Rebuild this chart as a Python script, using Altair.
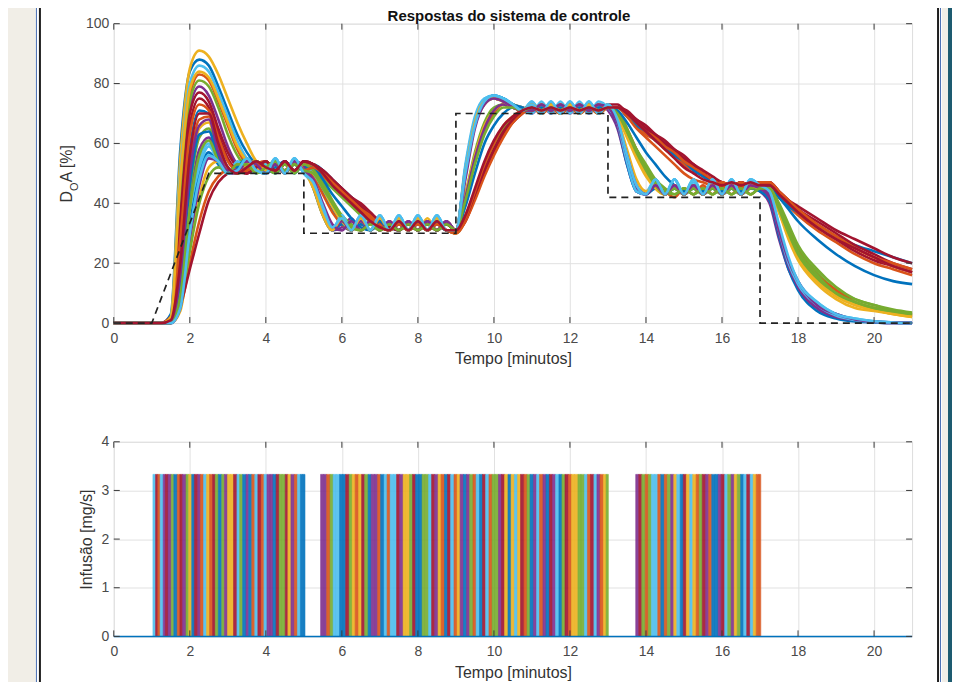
import altair as alt
import pandas as pd

# ---------------- data ----------------
t_grid = [0, 1.0, 1.25, 1.5, 1.75, 2.0, 2.25, 2.5, 2.75, 3.0, 3.25, 3.5, 3.75, 4.0,
          4.25, 4.5, 4.75, 5.0, 5.25, 5.5, 5.75, 6.0, 6.25, 6.5, 6.75, 7.0,
          7.25, 7.5, 7.75, 8.0, 8.25, 8.5, 8.75, 9.0, 9.25, 9.5, 9.75, 10.0, 10.25, 10.5, 10.75,
          11.0, 11.25, 11.5, 11.75, 12.0, 12.25, 12.5, 12.75, 13.0,
          13.25, 13.5, 13.75, 14.0, 14.25, 14.5, 14.75, 15.0,
          15.25, 15.5, 15.75, 16.0, 16.25, 16.5, 16.75, 17.0,
          17.25, 17.5, 17.75, 18.0, 18.5, 19.0, 19.5, 20.0, 20.5, 21.0]

run_01 = ([0,0,0,3,58,84,88,86,79,71,63,57,53,51] + [54,51,54,52] + [50,44,38,33,31,34,31,34]
          + [31,34,31,34,31,34,31] + [31,52,68,74,76,75,73,72] + [71,73,71,73,71,73,71,73,72]
          + [66,54,45,43,46,43,46,43] + [46,43,46,43,46,43,46,45] + [42,30,20,13,6,3,1,0.5,0.2,0])
run_02 = ([0,0,0,1,45,76,83,81,74,66,58,53,51,52] + [54,51,53,52] + [52,49,46,43,40,37,34,32]
          + [31,33,31,34,31,33,31] + [30,34,42,51,58,64,68,71] + [72,70,72,70,72,70,72,70,72]
          + [72,69,66,63,61,58,56,53] + [51,49,47,46,47,45,47,46] + [46,42,39,36,31,27,23,20,18,16])
run_03 = ([0,0,0,2,55,85,91,89,83,75,67,60,54,52] + [51,54,51,53] + [51,46,40,35,32,31,34,31]
          + [34,31,34,31,35,31,34] + [31,42,56,66,71,73,72,71] + [73,71,73,71,73,71,73,71,73]
          + [70,63,56,50,45,43,46,43] + [46,43,46,43,46,43,46,45] + [45,38,30,23,15,10,7,5,3.5,2.5])
run_04 = ([0,0,0,1,38,72,79,76,68,59,53,51,52,54] + [51,54,51,53] + [46,37,31,32,35,31,34,31]
          + [34,31,34,31,34,31,34] + [31,50,66,73,75,74,72,72] + [70,73,70,73,70,73,70,73,71]
          + [65,53,44,43,46,43,45,43] + [46,43,46,43,45,43,46,44] + [40,28,18,12,5,2,1,0.3,0,0])
run_05 = ([0,0,0,2,40,74,81,79,72,63,56,52,51,53] + [51,53,51,52] + [52,47,41,36,33,31,33,31]
          + [33,31,33,31,33,31,33] + [31,43,57,67,72,73,72,71] + [72,71,72,71,72,71,72,71,72]
          + [71,64,57,51,46,43,45,43] + [45,43,45,43,45,43,45,45] + [45,39,32,25,17,11,8,6,4,3])
run_06 = ([0,0,0,2,50,80,86,84,77,69,61,55,52,51] + [55,50,55,50] + [47,38,31,36,31,36,31,36]
          + [31,36,31,36,31,36,31] + [31,53,69,75,76,75,73,71] + [74,70,74,70,74,70,74,70,73]
          + [67,55,45,43,48,43,48,43] + [48,43,48,43,48,43,48,46] + [44,32,21,14,7,3,1.5,0.6,0.2,0])
run_07 = ([0,0,0,1,35,70,77,74,65,57,52,50,52,54] + [51,54,51,54] + [53,50,47,44,41,38,35,33]
          + [31,34,31,35,31,34,31] + [31,35,43,52,59,65,69,71] + [73,71,73,71,73,71,73,71,73]
          + [73,70,67,65,62,60,57,55] + [52,50,48,47,46,47,46,47] + [47,43,40,37,32,28,24,21,19,17])
run_08 = ([0,0,0,1,22,58,71,70,60,52,50,52,54,52] + [50,53,50,53] + [53,51,48,45,42,39,36,34]
          + [32,31,33,31,33,31,33] + [31,41,55,65,71,73,72,71] + [71,72,71,72,71,72,71,72,72]
          + [72,69,66,64,61,59,56,54] + [51,49,47,46,45,46,45,46] + [46,42,39,37,33,29,26,24,22,20])
run_09 = ([0,0,0,0,18,52,68,69,58,51,51,53,54,51] + [53,51,53,51] + [49,43,37,33,31,33,31,34]
          + [31,33,31,34,31,33,31] + [31,40,54,64,70,73,72,71] + [73,71,73,71,73,71,73,71,72]
          + [71,65,58,52,47,44,42,45] + [43,46,43,46,43,46,43,45] + [45,39,31,24,16,11,7,5,3.5,2.5])
run_10 = ([0,0,0,0,15,48,65,67,56,50,52,54,52,50] + [53,50,53,51] + [45,36,31,34,31,35,31,34]
          + [31,35,31,34,31,35,31] + [31,49,66,73,75,74,73,72] + [71,73,71,73,71,73,71,73,72]
          + [69,62,55,49,45,43,46,43] + [46,43,46,43,46,43,46,45] + [45,37,29,22,14,9,6,4.5,3,2])
run_11 = ([0,0,0,0,10,40,58,62,54,50,53,54,50,52] + [54,51,54,52] + [46,37,32,31,34,31,34,31]
          + [34,31,34,31,34,31,34] + [31,51,67,74,75,74,72,71] + [73,71,73,71,73,71,73,71,72]
          + [66,54,44,43,46,43,46,43] + [46,43,46,43,46,43,46,44] + [41,29,19,12,5,2,0.8,0.3,0,0])
run_12 = ([0,0,0,0,12,44,62,65,55,50,53,55,51,50] + [53,50,53,51] + [51,48,45,42,39,36,34,32]
          + [31,33,31,33,31,33,31] + [30,35,44,53,60,65,69,71] + [72,70,72,70,72,70,72,70,72]
          + [71,65,58,52,47,44,43,45] + [43,45,43,45,43,45,43,45] + [45,40,33,26,18,12,8,6,4.5,3.5])
run_13 = ([0,0,0,0,8,36,54,60,53,50,54,52,50,53] + [50,54,50,54] + [50,45,39,34,31,35,31,35]
          + [31,35,31,35,31,35,31] + [31,51,67,74,75,75,73,71] + [70,74,70,74,70,74,70,74,72]
          + [67,55,45,44,48,43,48,43] + [47,43,47,43,47,43,47,46] + [43,31,20,13,6,3,1.2,0.5,0.2,0])
run_14 = ([0,0,0,1,30,66,75,72,63,55,51,50,53,54] + [51,54,51,54] + [53,51,48,45,42,39,36,33]
          + [32,34,31,34,31,34,31] + [31,34,42,50,57,63,67,70] + [72,71,72,71,72,71,72,71,72]
          + [72,70,68,65,63,60,58,55] + [53,50,48,47,46,47,46,47] + [47,44,41,38,34,30,26,23,20,18])
run_15 = ([0,0,0,0,6,32,50,57,53,50,52,55,51,50] + [52,54,51,53] + [45,36,31,33,31,33,31,33]
          + [31,33,31,33,31,33,31] + [31,50,67,74,76,75,73,72] + [71,72,71,72,71,72,71,72,72]
          + [66,53,44,43,45,43,45,43] + [45,43,45,43,45,43,45,44] + [41,29,18,11,4,1.5,0.5,0.2,0,0])
run_16 = ([0,0,0,1,5,20,34,44,49,51,50,51,53,54] + [51,53,51,53] + [53,50,47,44,41,38,36,33]
          + [31,33,31,33,31,33,31] + [30,34,41,49,56,62,67,70] + [72,70,72,70,72,70,72,70,72]
          + [72,70,67,64,62,59,57,54] + [52,50,48,47,46,45,46,46] + [46,43,40,37,33,29,25,22,19,17])
run_17 = ([0,0,0,0,4,25,42,52,54,51,50,53,54,51] + [53,51,53,51] + [50,45,39,34,31,34,31,34]
          + [31,34,31,34,31,34,31] + [31,43,56,66,71,73,72,71] + [72,71,72,71,72,71,72,71,72]
          + [70,63,56,50,45,43,46,43] + [46,43,46,43,46,43,46,45] + [45,38,30,22,14,9,6,4.5,3,2.5])
run_18 = ([0,0,0,0,5,28,46,55,54,50,50,54,53,50] + [54,51,54,52] + [46,37,31,34,31,34,31,34]
          + [31,34,31,34,31,34,31] + [31,42,55,65,71,73,72,71] + [72,71,72,71,72,71,72,71,72]
          + [66,54,45,43,46,43,46,43] + [46,43,46,43,46,43,46,45] + [42,30,19,12,5,2,1,0.4,0.1,0])
run_19 = ([0,0,0,1,6,24,40,49,52,51,50,52,54,52] + [50,53,50,53] + [51,46,40,35,32,31,33,31]
          + [33,31,33,31,33,31,33] + [31,36,44,52,59,65,69,71] + [73,71,73,71,73,71,73,71,72]
          + [71,64,57,51,46,43,45,43] + [45,43,45,43,45,43,45,45] + [45,39,31,24,16,10,7,5,3.5,3])
run_20 = ([0,0,0,1,12,38,52,59,54,50,51,55,51,50] + [55,50,55,50] + [46,37,31,36,31,36,31,36]
          + [31,36,31,36,31,36,31] + [31,52,68,75,76,75,73,71] + [74,70,74,70,74,70,74,70,73]
          + [67,54,44,43,48,43,48,43] + [48,43,48,43,48,43,48,46] + [44,31,20,13,6,2.5,1,0.4,0.1,0])
run_21 = ([0,0,0,2,6,18,30,41,47,50,51,50,52,54] + [51,54,51,54] + [53,51,48,45,42,40,37,34]
          + [32,31,33,31,33,31,33] + [31,35,43,51,58,64,68,71] + [72,71,72,71,72,71,72,71,72]
          + [72,71,68,66,63,61,58,56] + [53,51,49,47,46,47,46,47] + [47,44,41,39,35,31,28,25,22,20])
run_22 = ([0,0,0,0,14,46,63,64,55,50,52,54,51,50] + [53,51,53,51] + [52,48,43,39,35,32,31,34]
          + [31,34,31,34,31,34,31] + [31,39,50,60,66,70,72,71] + [72,71,72,71,72,71,72,71,72]
          + [71,67,62,57,53,49,46,44] + [46,44,46,44,46,44,46,46] + [46,42,38,34,28,23,19,16,14,13])
run_23 = ([0,0,0,1,28,63,73,71,62,54,51,51,53,52] + [54,51,54,51] + [52,50,47,44,41,38,35,32]
          + [31,33,31,33,31,33,31] + [30,35,44,53,60,66,69,71] + [71,73,71,73,71,73,71,73,72]
          + [72,69,65,62,59,56,53,50] + [48,47,46,47,46,47,46,47] + [47,44,41,38,33,29,25,22,20,18])
run_24 = ([0,0,0,2,48,78,84,82,75,67,59,54,51,52] + [54,51,54,51] + [45,36,31,35,31,35,31,35]
          + [31,35,31,35,31,35,31] + [31,50,67,74,75,74,72,71] + [73,71,73,71,73,71,73,71,72]
          + [68,58,48,44,46,43,46,43] + [46,43,46,43,46,43,46,45] + [45,37,28,21,13,8,5,4,3,2])
run_25 = ([0,0,0,0,16,50,66,68,57,51,51,54,53,50] + [53,50,54,51] + [48,40,33,31,34,31,34,31]
          + [34,31,34,31,34,31,34] + [31,48,65,73,75,74,72,71] + [71,73,71,73,71,73,71,73,72]
          + [67,56,46,43,46,43,46,43] + [46,43,46,43,46,43,46,45] + [43,31,21,14,6,3,1.2,0.5,0.2,0])
run_26 = ([0,0,0,0,9,38,56,61,54,50,53,53,50,52] + [54,51,53,51] + [50,45,40,35,32,31,33,31]
          + [33,31,33,31,33,31,33] + [31,41,53,63,69,72,72,71] + [72,71,72,71,72,71,72,71,72]
          + [70,64,58,53,48,45,43,45] + [43,45,43,45,43,45,43,45] + [45,38,30,23,15,10,7,5,4,3])
run_27 = ([0,0,0,0,5,30,48,56,54,50,51,55,51,50] + [55,50,55,50] + [47,39,32,35,31,36,31,36]
          + [31,36,31,36,31,36,31] + [31,50,66,74,76,75,73,71] + [73,70,74,70,74,70,74,70,73]
          + [68,56,46,43,48,43,48,43] + [48,43,48,43,48,43,48,46] + [44,33,22,14,7,3,1.5,0.6,0.2,0])
run_28 = ([0,0,0,1,20,56,70,70,60,52,50,52,54,52] + [51,54,51,54] + [53,50,46,43,40,37,34,32]
          + [31,34,31,34,31,34,31] + [31,36,45,54,61,66,69,71] + [72,71,72,71,72,71,72,71,72]
          + [72,70,67,64,61,58,55,52] + [50,48,47,46,47,46,47,46] + [46,43,40,37,32,28,25,22,19,17])

# set-point (dashed reference)
ref_t = [0, 1.0, 2.5, 5.0, 5.0, 9.0, 9.0, 13.0, 13.0, 17.0, 17.0, 21.0]
ref_v = [0, 0, 50, 50, 30, 30, 70, 70, 42, 42, 0, 0]

# infusion pulses: stripe boundaries (minutes) and the run drawn on top in each stripe
pulse_level = 3.33
B1 = [1.03, 1.10, 1.16, 1.22, 1.30, 1.36, 1.43, 1.51, 1.58, 1.67, 1.74, 1.81, 1.90, 1.97, 2.05,
      2.12, 2.21, 2.28, 2.36, 2.44, 2.52, 2.60, 2.67, 2.75, 2.84, 2.91, 2.99, 3.07, 3.15, 3.24,
      3.31, 3.39, 3.48, 3.55, 3.63, 3.71, 3.79, 3.88, 3.95, 4.03, 4.11, 4.19, 4.27, 4.35, 4.43,
      4.51, 4.58, 4.66, 4.75, 4.83, 4.91, 4.97, 5.03]
R1 = [6, 7, 2, 13, 4, 14, 11, 5, 1, 9, 7, 18, 12, 3, 8, 21, 4, 16, 6, 10, 2, 14, 19, 1, 5, 11,
      17, 3, 7, 20, 12, 8, 4, 15, 9, 13, 21, 2, 6, 18, 11, 1, 14, 5, 19, 7, 10, 4, 16, 13, 1, 8]
B2 = [5.44, 5.52, 5.60, 5.69, 5.77, 5.85, 5.94, 6.02, 6.10, 6.19, 6.27, 6.35, 6.44, 6.52, 6.60,
      6.69, 6.77, 6.86, 6.94, 7.02, 7.11, 7.19, 7.27, 7.36, 7.44, 7.52, 7.61, 7.69, 7.78, 7.86,
      7.94, 8.03, 8.11, 8.19, 8.28, 8.36, 8.44, 8.53, 8.61, 8.70, 8.78, 8.86, 8.95, 9.03, 9.11,
      9.20, 9.28, 9.36, 9.45, 9.53, 9.62, 9.70, 9.78, 9.87, 9.95, 10.03, 10.12, 10.20, 10.28,
      10.37, 10.45, 10.54, 10.62, 10.70, 10.79, 10.87, 10.95, 11.04, 11.12, 11.20, 11.29, 11.37,
      11.46, 11.54, 11.62, 11.71, 11.79, 11.87, 11.96, 12.04, 12.12, 12.21, 12.29, 12.38, 12.46,
      12.54, 12.63, 12.71, 12.79, 12.88, 12.95, 13.01]
R2 = [4, 11, 2, 19, 6, 13, 1, 8, 21, 5, 3, 16, 10, 7, 12, 1, 18, 4, 9, 15,
      6, 2, 20, 13, 7, 11, 3, 17, 5, 14, 8, 1, 19, 12, 6, 21, 4, 10, 2, 15,
      7, 13, 9, 3, 18, 1, 11, 5, 16, 20, 8, 14, 6, 2, 12, 19, 4, 7, 10, 1,
      17, 13, 3, 21, 9, 5, 15, 11, 6, 2, 18, 8, 14, 4, 20, 1, 12, 7, 16, 3,
      10, 19, 5, 13, 9, 21, 6, 11, 2, 17, 5]
B3 = [13.73, 13.81, 13.89, 13.98, 14.06, 14.14, 14.23, 14.31, 14.39, 14.48, 14.56, 14.65, 14.73,
      14.81, 14.90, 14.98, 15.06, 15.15, 15.23, 15.32, 15.40, 15.48, 15.57, 15.65, 15.73, 15.82,
      15.90, 15.98, 16.07, 16.15, 16.24, 16.32, 16.40, 16.49, 16.57, 16.65, 16.74, 16.82, 16.90,
      16.97, 17.02]
R3 = [4, 7, 12, 2, 19, 6, 13, 9, 1, 16, 5, 11, 3, 20, 8, 14, 10, 6, 17, 2,
      12, 21, 4, 9, 15, 1, 18, 7, 13, 5, 11, 3, 19, 8, 20, 14, 6, 10, 2, 16]

base_t = [0, 21]
base_v = [0, 0]

x_ticks = [0, 2, 4, 6, 8, 10, 12, 14, 16, 18, 20]
y_ticks_top = [0, 20, 40, 60, 80, 100]
y_ticks_bot = [0, 1, 2, 3, 4]
run_ids = [1, 2, 3, 4, 5, 6, 7, 8, 9, 10, 11, 12, 13, 14, 15, 16, 17, 18, 19, 20, 21,
           22, 23, 24, 25, 26, 27, 28]

# ---------------- tables ----------------
runs = [run_01, run_02, run_03, run_04, run_05, run_06, run_07, run_08, run_09, run_10, run_11,
        run_12, run_13, run_14, run_15, run_16, run_17, run_18, run_19, run_20, run_21,
        run_22, run_23, run_24, run_25, run_26, run_27, run_28]
rows = []
for k, vals in zip(run_ids, runs):
    assert len(vals) == len(t_grid), (k, len(vals))
    for t, v in zip(t_grid, vals):
        rows.append({"t": t, "v": v, "run": k})
curves_df = pd.DataFrame(rows)
ref_df = pd.DataFrame({"t": ref_t, "v": ref_v, "i": list(range(len(ref_t)))})

srows = []
for B, R in ((B1, R1), (B2, R2), (B3, R3)):
    assert len(B) == len(R) + 1
    for a, b, r in zip(B[:-1], B[1:], R):
        srows.append({"t0": a, "t1": b, "run": r, "lo": 0.0, "hi": pulse_level})
stripe_df = pd.DataFrame(srows)
base_df = pd.DataFrame({"t": base_t, "v": base_v})
one = pd.DataFrame({"a": [0]})

# ---------------- style ----------------
FONT = "Liberation Sans"
PALETTE = ["#0072BD", "#D95319", "#EDB120", "#7E2F8E", "#77AC30", "#4DBEEE", "#A2142F"]
color_scale = alt.Scale(domain=run_ids, range=PALETTE * 4)
W, H1, H2 = 800, 300, 195
GRID = "#e1e1e1"
TICK = "#3a3a3a"
LAB = "#4a4a4a"

xs = alt.Scale(domain=[0, 21], nice=False, zero=False)
ys_top = alt.Scale(domain=[0, 100], nice=False)
ys_bot = alt.Scale(domain=[0, 4], nice=False)


def x_axis():
    return alt.Axis(values=x_ticks, grid=True, gridColor=GRID, gridWidth=1, domain=False,
                    ticks=False, labelPadding=8, labelFontSize=14, labelColor=LAB,
                    labelFont=FONT, labelFlush=False, title="Tempo [minutos]", titleFont=FONT,
                    titleFontSize=16, titleFontWeight="normal", titleColor="#333333",
                    titlePadding=6)


y_axis_top = alt.Axis(values=y_ticks_top, grid=True, gridColor=GRID, gridWidth=1, domain=False,
                      ticks=False, labelPadding=5, labelFontSize=14, labelColor=LAB,
                      labelFont=FONT, title=None)
y_axis_bot = alt.Axis(values=y_ticks_bot, grid=True, gridColor=GRID, gridWidth=1, domain=False,
                      ticks=False, labelPadding=5, labelFontSize=14, labelColor=LAB,
                      labelFont=FONT, title="Infusão [mg/s]", titleFont=FONT, titleFontSize=16,
                      titleFontWeight="normal", titleColor="#333333", titleX=-22,
                      titleY=H2 / 2, titleAngle=270, titleAlign="center",
                      titleBaseline="alphabetic")
x_axis_top = x_axis()
x_axis_bot = x_axis()

# window frame around the figure (pixels relative to each plot area)
FRAME = [(-113, -78, "#f1eee7"), (-78, -77, "#4a6fb5"), (-75, -73, "#1e1e1e"),
         (825, 827, "#1e1e1e"), (828, 829, "#4a6fb5"), (830, 836, "#f1eee7"),
         (836, 847, "#1d5b70")]


def frame(y_top, y_bot):
    return [alt.Chart(one).mark_rect(color=c).encode(
        x=alt.value(a), x2=alt.value(b), y=alt.value(y_top), y2=alt.value(y_bot))
        for a, b, c in FRAME]


def inner_ticks(xsc, xax, ysc, yax, yvals, h):
    xt = pd.DataFrame({"xt": x_ticks})
    yt = pd.DataFrame({"yt": yvals})
    r = dict(color=TICK, strokeWidth=1)
    return [
        alt.Chart(xt).mark_rule(**r).encode(x=alt.X("xt:Q", scale=xsc, axis=xax),
                                            y=alt.value(0), y2=alt.value(6)),
        alt.Chart(xt).mark_rule(**r).encode(x=alt.X("xt:Q", scale=xsc, axis=xax),
                                            y=alt.value(h - 6), y2=alt.value(h)),
        alt.Chart(yt).mark_rule(**r).encode(y=alt.Y("yt:Q", scale=ysc, axis=yax),
                                            x=alt.value(0), x2=alt.value(6)),
        alt.Chart(yt).mark_rule(**r).encode(y=alt.Y("yt:Q", scale=ysc, axis=yax),
                                            x=alt.value(W - 6), x2=alt.value(W)),
    ]


# ---------------- top panel ----------------
lines = alt.Chart(curves_df).mark_line(interpolate="monotone", strokeWidth=2.6).encode(
    x=alt.X("t:Q", scale=xs, axis=x_axis_top),
    y=alt.Y("v:Q", scale=ys_top, axis=y_axis_top),
    color=alt.Color("run:N", scale=color_scale, legend=None),
)
dashed = alt.Chart(ref_df).mark_line(color="#222222", strokeDash=[7, 5], strokeWidth=1.7).encode(
    x=alt.X("t:Q", scale=xs, axis=x_axis_top),
    y=alt.Y("v:Q", scale=ys_top, axis=y_axis_top),
    order=alt.Order("i:Q"),
)
title_txt = alt.Chart(one).mark_text(font=FONT, fontSize=15, fontWeight="bold", color="#111111",
                                     align="center", baseline="alphabetic").encode(
    x=alt.value(396), y=alt.value(-3), text=alt.value("Respostas do sistema de controle"))
ytxt = dict(font=FONT, color="#333333", angle=270, align="left", baseline="alphabetic")
y_D = alt.Chart(one).mark_text(fontSize=16, **ytxt).encode(
    x=alt.value(-42), y=alt.value(179.2), text=alt.value("D"))
y_O = alt.Chart(one).mark_text(fontSize=11, **ytxt).encode(
    x=alt.value(-35.5), y=alt.value(167.6), text=alt.value("O"))
y_A = alt.Chart(one).mark_text(fontSize=16, **ytxt).encode(
    x=alt.value(-42), y=alt.value(159.0), text=alt.value("A [%]"))

top = alt.layer(
    *frame(-30, 378), lines, dashed,
    *inner_ticks(xs, x_axis_top, ys_top, y_axis_top, y_ticks_top, H1),
    title_txt, y_D, y_O, y_A,
).properties(width=W, height=H1)

# ---------------- bottom panel ----------------
stripes = alt.Chart(stripe_df).mark_rect(opacity=0.9, strokeWidth=0.6).encode(
    x=alt.X("t0:Q", scale=xs, axis=x_axis_bot),
    x2="t1:Q",
    y=alt.Y("lo:Q", scale=ys_bot, axis=y_axis_bot),
    y2="hi:Q",
    color=alt.Color("run:N", scale=color_scale, legend=None),
    stroke=alt.Stroke("run:N", scale=color_scale, legend=None),
)
baseline = alt.Chart(base_df).mark_line(color="#0072BD", strokeWidth=1.5).encode(
    x=alt.X("t:Q", scale=xs, axis=x_axis_bot),
    y=alt.Y("v:Q", scale=ys_bot, axis=y_axis_bot),
)

bottom = alt.layer(
    *frame(-41, 245), stripes, baseline,
    *inner_ticks(xs, x_axis_bot, ys_bot, y_axis_bot, y_ticks_bot, H2),
).properties(width=W, height=H2)

chart = alt.vconcat(top, bottom, spacing=-2).properties(
    padding={"top": -16, "left": -8, "right": -8, "bottom": -6},
    background="white",
).configure_view(stroke="#808080", strokeWidth=1).configure(font=FONT)

chart.save("out.html", embed_options={"renderer": "svg", "actions": False})
